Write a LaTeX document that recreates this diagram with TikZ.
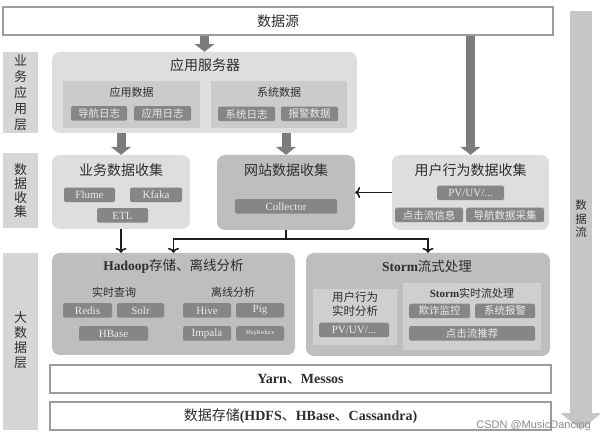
\documentclass[tikz,border=0pt]{standalone}
\usepackage{fontspec}
\setmainfont{Liberation Serif}
\newfontfamily\cjk{Noto Sans CJK SC}
\newfontfamily\wmfont{Liberation Sans}
\usetikzlibrary{arrows.meta}
\definecolor{framec}{HTML}{9C9C9C}
\definecolor{panelc}{HTML}{DEDEDE}
\definecolor{dpanelc}{HTML}{BEBEBE}
\definecolor{grpc}{HTML}{CBCBCB}
\definecolor{sgrpc}{HTML}{CFCFCF}
\definecolor{sidec}{HTML}{D6D6D6}
\definecolor{tilec}{HTML}{868686}
\definecolor{fatc}{HTML}{7C7C7C}
\definecolor{flowc}{HTML}{C6C6C6}
\definecolor{linkc}{HTML}{1E1E1E}
\definecolor{textc}{HTML}{2E2E2E}
\begin{document}
\begin{tikzpicture}[x=1pt,y=-1pt]

    \tikzset{
      frame/.style={draw=framec, line width=1.2pt, fill=white, inner sep=0pt, minimum height=28pt,
        text=textc, font=\cjk\fontsize{14}{16}\selectfont},
      panel/.style={fill=panelc, rounded corners=8pt, inner sep=0pt},
      dpanel/.style={fill=dpanelc, rounded corners=8pt, inner sep=0pt},
      grp/.style={fill=grpc, inner sep=0pt},
      sgrp/.style={fill=sgrpc, inner sep=0pt},
      side/.style={fill=sidec, inner sep=0pt, minimum width=35pt},
      tile/.style={fill=tilec, text=white!92!black, rounded corners=1.5pt, inner sep=0pt,
        minimum height=14.5pt, font=\fontsize{11}{12}\selectfont},
      ctile/.style={tile, font=\cjk\fontsize{10.5}{12}\selectfont},
      ttl/.style={text=textc, inner sep=0pt, font=\cjk\fontsize{14}{16}\selectfont},
      sub/.style={text=textc, inner sep=0pt, align=center, font=\cjk\fontsize{11}{14}\selectfont},
      vtxt/.style={text=textc, inner sep=0pt, align=center, font=\cjk\fontsize{13}{#1}\selectfont},
      fat/.style={draw=fatc, line width=9pt, -{Triangle[length=8pt,width=20pt]}},
      link/.style={draw=linkc, line width=1.6pt, -{To[length=5pt,width=11pt]}},
      wmark/.style={text=black!45, inner sep=0pt, font=\wmfont\fontsize{11}{12}\selectfont},
    }
    \useasboundingbox (0,0) rectangle (600,438);

    \draw[draw=flowc, line width=22pt, -{Triangle[length=17pt,width=40pt]}] (581,11) -- (581,430);
    \node[vtxt=13.5pt, font=\cjk\fontsize{11.5}{13.5}\selectfont] (flowT) at (581,219) {数\\据\\流};

    \node[frame, minimum width=550pt] (src) at (278,21) {数据源};

    \node[side, minimum height=81pt] (layA) at (20.5,92.5) {};
    \node[vtxt=16pt] (layAT) at (20.5,92.5) {业\\务\\应\\用\\层};
    \node[side, minimum height=75pt] (layB) at (20.5,190.5) {};
    \node[vtxt=14pt] (layBT) at (20.5,190.5) {数\\据\\收\\集};
    \node[side, minimum height=177pt] (layC) at (20.5,341.5) {};
    \node[vtxt=15pt] (layCT) at (20.5,340) {大\\数\\据\\层};

    \node[panel, minimum width=305pt, minimum height=81pt] (app) at (204.5,92.5) {};
    \node[ttl] (appT) at (205,65) {应用服务器};
    \node[grp, minimum width=137pt, minimum height=47pt] (appdat) at (131.5,104.5) {};
    \node[sub] (appdatT) at (131.5,92) {应用数据};
    \node[ctile, minimum width=56pt] (navlog) at (99,113.5) {导航日志};
    \node[ctile, minimum width=57pt] (applog) at (162.5,113.5) {应用日志};
    \node[grp, minimum width=136pt, minimum height=47pt] (sysdat) at (279,104.5) {};
    \node[sub] (sysdatT) at (279,92) {系统数据};
    \node[ctile, minimum width=57pt] (syslog) at (246.5,114) {系统日志};
    \node[ctile, minimum width=57pt] (alarm) at (309.5,114) {报警数据};

    \node[panel, minimum width=138pt, minimum height=74pt] (biz) at (121,192) {};
    \node[ttl] (bizT) at (121,170) {业务数据收集};
    \node[tile, minimum width=51pt] (flume) at (89.5,195) {Flume};
    \node[tile, minimum width=52pt] (kfaka) at (156,195) {Kfaka};
    \node[tile, minimum width=51pt] (etl) at (122.5,215.5) {ETL};

    \node[dpanel, minimum width=138pt, minimum height=75pt] (web) at (286,192.5) {};
    \node[ttl] (webT) at (286,170) {网站数据收集};
    \node[tile, minimum width=102pt] (coll) at (286,206.5) {Collector};

    \node[panel, minimum width=157pt, minimum height=75pt] (user) at (470.5,192.5) {};
    \node[ttl] (userT) at (470.5,170) {用户行为数据收集};
    \node[tile, minimum width=67pt] (pvA) at (470.5,193) {PV/UV/...};
    \node[ctile, minimum width=68pt] (click) at (429,215) {点击流信息};
    \node[ctile, minimum width=78pt] (navcol) at (505,215) {导航数据采集};

    \node[dpanel, minimum width=243pt, minimum height=102pt] (hdp) at (173.5,304) {};
    \node[ttl, font=\cjk\fontsize{13.5}{16}\selectfont] (hdpT) at (173.5,266) {{\rmfamily\bfseries Hadoop}存储、离线分析};
    \node[sub] (rtq) at (114,292) {实时查询};
    \node[tile, minimum width=49pt] (redis) at (87.5,310.5) {Redis};
    \node[tile, minimum width=47pt] (solr) at (140.5,310.5) {Solr};
    \node[tile, minimum width=69pt] (hbase) at (113.5,333.5) {HBase};
    \node[sub] (offl) at (233,292) {离线分析};
    \node[tile, minimum width=48pt] (hive) at (207,310.5) {Hive};
    \node[tile, minimum width=48pt] (pig) at (260,310.5) {Pig};
    \node[tile, minimum width=48pt] (impala) at (207,333.5) {Impala};
    \node[tile, minimum width=48pt, font=\fontsize{6}{7}\selectfont] (mapred) at (260,333.5) {MapReduce};

    \node[dpanel, minimum width=244pt, minimum height=103pt] (storm) at (428,304.5) {};
    \node[ttl, font=\cjk\fontsize{13.5}{16}\selectfont] (stormT) at (427,266) {{\rmfamily\bfseries Storm}流式处理};
    \node[sgrp, minimum width=84pt, minimum height=56pt] (ubox) at (355,317) {};
    \node[sub, font=\cjk\fontsize{11.5}{14}\selectfont] (uboxT) at (355,304) {用户行为\\实时分析};
    \node[tile, minimum width=70pt] (pvB) at (354,330) {PV/UV/...};
    \node[sgrp, minimum width=138pt, minimum height=67pt] (sbox) at (472,316.5) {};
    \node[sub] (sboxT) at (472,293) {{\rmfamily\bfseries Storm}实时流处理};
    \node[ctile, minimum width=61pt] (fraud) at (439.5,311) {欺诈监控};
    \node[ctile, minimum width=60pt] (salarm) at (505,311) {系统报警};
    \node[ctile, minimum width=126pt] (recom) at (472,333.5) {点击流推荐};

    \node[frame, minimum width=501pt] (yarn) at (300.5,379) {{\rmfamily\bfseries Yarn}、{\rmfamily\bfseries Messos}};
    \node[frame, minimum width=501pt] (store) at (300.5,416) {数据存储{\rmfamily\bfseries (HDFS}、{\rmfamily\bfseries HBase}、{\rmfamily\bfseries Cassandra)}};

    \node[wmark, anchor=east] (wm) at (591,426) {CSDN @MusicDancing};

    \draw[fat] (app.north |- src.south) -- (app.north);
    \draw[fat] (user.north |- src.south) -- (user.north);
    \draw[fat] (biz.north |- app.south) -- (biz.north);
    \draw[fat] (web.north |- app.south) -- (web.north);
    \draw[link] (user.west) -- (web.east);
    \draw[link] (biz.south) -- (biz.south |- hdp.north);
    \coordinate (split) at (286,239);
    \draw[linkc, line width=1.6pt] (web.south) -- (split);
    \draw[link] (split) -| (hdp.north);
    \draw[link] (split) -| (storm.north);

\end{tikzpicture}
\end{document}
